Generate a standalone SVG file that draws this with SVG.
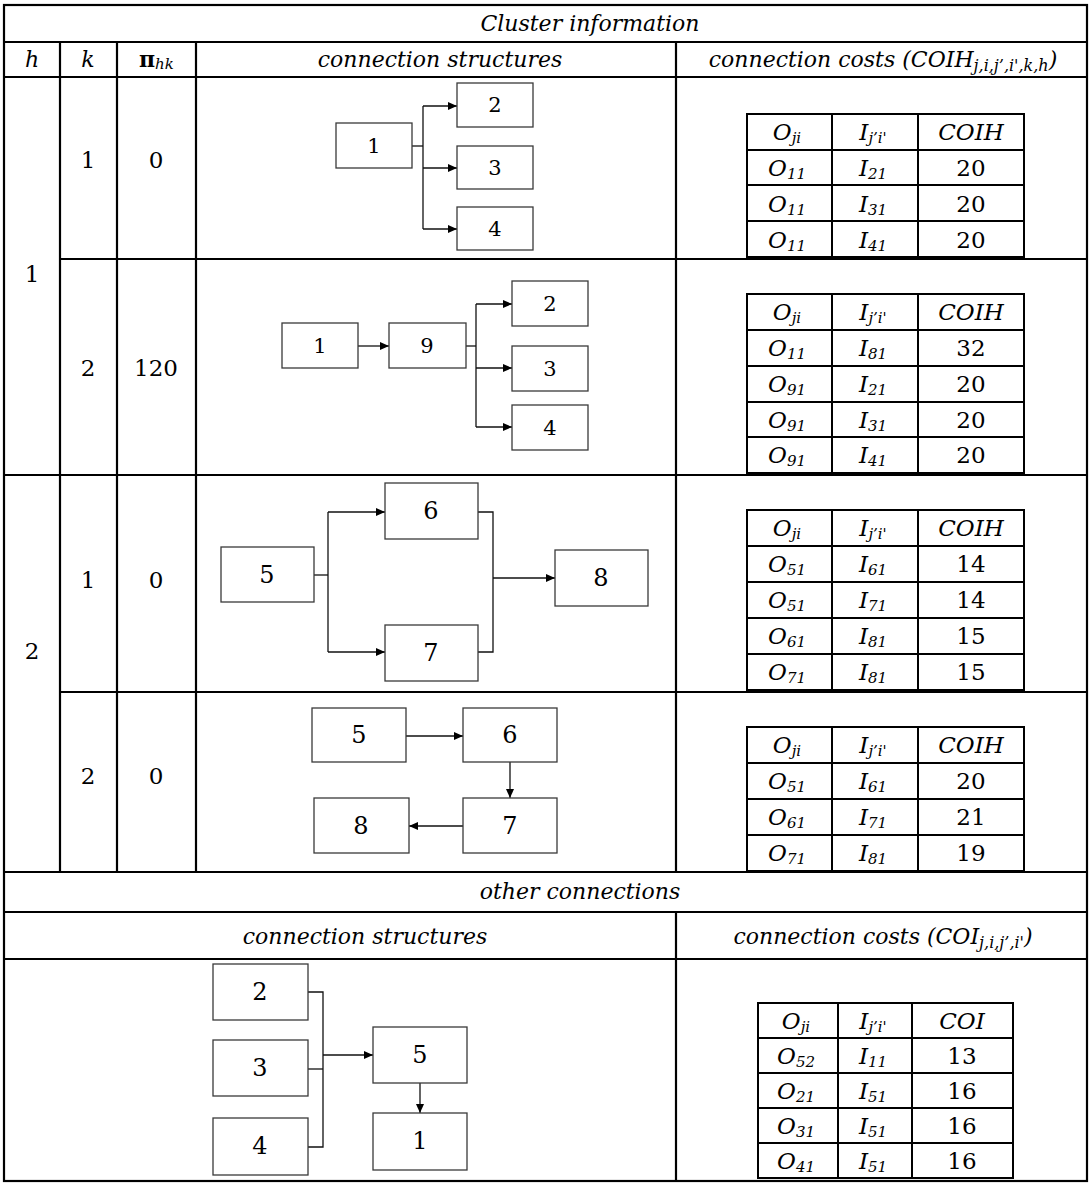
<svg xmlns="http://www.w3.org/2000/svg" width="1089" height="1183" viewBox="0 0 1089 1183" font-family="'DejaVu Serif', serif">
<style>
.g{stroke:#000;stroke-width:2.2;fill:none}
.t{stroke:#000;stroke-width:2;fill:none}
.n{fill:#fff;stroke:#3a3a3a;stroke-width:1.3}
.c{stroke:#111;stroke-width:1.3;fill:none}
text{fill:#000;font-family:"DejaVu Serif",serif}
.i{font-style:italic}
.h{font-size:22px;font-style:italic}
.lb{font-size:23px}
.nl{font-size:21px;text-anchor:middle}
.nb{font-size:24px;text-anchor:middle}
.tc{font-size:23px;text-anchor:middle}
.sb{font-size:15px;font-style:italic}
.hs{font-size:16px}
.m{text-anchor:middle}
</style>
<defs>
<marker id="ah" markerWidth="10" markerHeight="8" refX="9" refY="4" orient="auto" markerUnits="userSpaceOnUse">
<path d="M0,0 L9,4 L0,8 Z" fill="#000"/>
</marker>
</defs>
<rect width="1089" height="1183" fill="#fff"/>

<g id="grid">
<rect class="g" x="4" y="5" width="1083" height="1176"/>
<line class="g" x1="4" y1="42" x2="1087" y2="42"/>
<line class="g" x1="4" y1="77" x2="1087" y2="77"/>
<line class="g" x1="60" y1="259" x2="1087" y2="259"/>
<line class="g" x1="4" y1="475" x2="1087" y2="475"/>
<line class="g" x1="60" y1="692" x2="1087" y2="692"/>
<line class="g" x1="4" y1="872" x2="1087" y2="872"/>
<line class="g" x1="4" y1="912" x2="1087" y2="912"/>
<line class="g" x1="4" y1="959" x2="1087" y2="959"/>
<line class="g" x1="60" y1="42" x2="60" y2="872"/>
<line class="g" x1="117" y1="42" x2="117" y2="872"/>
<line class="g" x1="196" y1="42" x2="196" y2="872"/>
<line class="g" x1="676" y1="42" x2="676" y2="872"/>
<line class="g" x1="676" y1="912" x2="676" y2="1181"/>
</g>

<g id="headers">
<text class="h m" x="590" y="31">Cluster information</text>
<text class="h m" x="32" y="67">h</text>
<text class="h m" x="88" y="67">k</text>
<text x="139" y="67" font-size="22px" font-weight="bold">π<tspan class="sb" font-weight="normal" font-size="14px" dy="2">hk</tspan></text>
<text class="h m" x="440" y="67">connection structures</text>
<text class="h m" x="883" y="67">connection costs (COIH<tspan class="hs" dy="4">j,i,j’,i',k,h</tspan><tspan dy="-4">)</tspan></text>
<text class="h m" x="580" y="899">other connections</text>
<text class="h m" x="365" y="944">connection structures</text>
<text class="h m" x="883" y="944">connection costs (COI<tspan class="hs" dy="4">j,i,j’,i'</tspan><tspan dy="-4">)</tspan></text>
</g>

<g id="row-labels">
<text class="lb m" x="32" y="282">1</text>
<text class="lb m" x="32" y="659">2</text>
<text class="lb m" x="88" y="168">1</text>
<text class="lb m" x="156" y="168">0</text>
<text class="lb m" x="88" y="376">2</text>
<text class="lb m" x="156" y="376">120</text>
<text class="lb m" x="88" y="588">1</text>
<text class="lb m" x="156" y="588">0</text>
<text class="lb m" x="88" y="784">2</text>
<text class="lb m" x="156" y="784">0</text>
</g>

<g id="connectors">
<polyline class="c" points="412,146 423,146"/>
<line class="c" x1="423" y1="106" x2="423" y2="229"/>
<line class="c" x1="423" y1="106" x2="457" y2="106" marker-end="url(#ah)"/>
<line class="c" x1="423" y1="168" x2="457" y2="168" marker-end="url(#ah)"/>
<line class="c" x1="423" y1="229" x2="457" y2="229" marker-end="url(#ah)"/>
<line class="c" x1="358" y1="346" x2="389" y2="346" marker-end="url(#ah)"/>
<polyline class="c" points="466,346 476,346"/>
<line class="c" x1="476" y1="304" x2="476" y2="427"/>
<line class="c" x1="476" y1="304" x2="512" y2="304" marker-end="url(#ah)"/>
<line class="c" x1="476" y1="368" x2="512" y2="368" marker-end="url(#ah)"/>
<line class="c" x1="476" y1="427" x2="512" y2="427" marker-end="url(#ah)"/>
<polyline class="c" points="314,575 328,575"/>
<line class="c" x1="328" y1="512" x2="328" y2="652"/>
<line class="c" x1="328" y1="512" x2="385" y2="512" marker-end="url(#ah)"/>
<line class="c" x1="328" y1="652" x2="385" y2="652" marker-end="url(#ah)"/>
<polyline class="c" points="478,512 493,512 493,652 478,652"/>
<line class="c" x1="493" y1="578" x2="555" y2="578" marker-end="url(#ah)"/>
<line class="c" x1="406" y1="736" x2="463" y2="736" marker-end="url(#ah)"/>
<line class="c" x1="510" y1="762" x2="510" y2="798" marker-end="url(#ah)"/>
<line class="c" x1="463" y1="826" x2="409" y2="826" marker-end="url(#ah)"/>
<polyline class="c" points="308,992 323,992 323,1147 308,1147"/>
<line class="c" x1="308" y1="1069" x2="323" y2="1069"/>
<line class="c" x1="323" y1="1055" x2="373" y2="1055" marker-end="url(#ah)"/>
<line class="c" x1="420" y1="1083" x2="420" y2="1113" marker-end="url(#ah)"/>
</g>

<g id="nodes">
<g id="s11-n1"><rect class="n" x="336" y="123" width="76" height="45"/><text class="nl" x="374" y="153">1</text></g>
<g id="s11-n2"><rect class="n" x="457" y="83" width="76" height="44"/><text class="nl" x="495" y="112">2</text></g>
<g id="s11-n3"><rect class="n" x="457" y="146" width="76" height="43"/><text class="nl" x="495" y="175">3</text></g>
<g id="s11-n4"><rect class="n" x="457" y="207" width="76" height="43"/><text class="nl" x="495" y="236">4</text></g>

<g id="s12-n1"><rect class="n" x="282" y="323" width="76" height="45"/><text class="nl" x="320" y="353">1</text></g>
<g id="s12-n9"><rect class="n" x="389" y="323" width="77" height="45"/><text class="nl" x="427" y="353">9</text></g>
<g id="s12-n2"><rect class="n" x="512" y="281" width="76" height="45"/><text class="nl" x="550" y="311">2</text></g>
<g id="s12-n3"><rect class="n" x="512" y="346" width="76" height="45"/><text class="nl" x="550" y="376">3</text></g>
<g id="s12-n4"><rect class="n" x="512" y="405" width="76" height="45"/><text class="nl" x="550" y="435">4</text></g>

<g id="s21-n5"><rect class="n" x="221" y="547" width="93" height="55"/><text class="nb" x="267" y="583">5</text></g>
<g id="s21-n6"><rect class="n" x="385" y="483" width="93" height="56"/><text class="nb" x="431" y="519">6</text></g>
<g id="s21-n7"><rect class="n" x="385" y="625" width="93" height="56"/><text class="nb" x="431" y="661">7</text></g>
<g id="s21-n8"><rect class="n" x="555" y="550" width="93" height="56"/><text class="nb" x="601" y="586">8</text></g>

<g id="s22-n5"><rect class="n" x="312" y="708" width="94" height="54"/><text class="nb" x="359" y="743">5</text></g>
<g id="s22-n6"><rect class="n" x="463" y="708" width="94" height="54"/><text class="nb" x="510" y="743">6</text></g>
<g id="s22-n7"><rect class="n" x="463" y="798" width="94" height="55"/><text class="nb" x="510" y="834">7</text></g>
<g id="s22-n8"><rect class="n" x="314" y="798" width="95" height="55"/><text class="nb" x="361" y="834">8</text></g>

<g id="o-n2"><rect class="n" x="213" y="964" width="95" height="56"/><text class="nb" x="260" y="1000">2</text></g>
<g id="o-n3"><rect class="n" x="213" y="1040" width="95" height="56"/><text class="nb" x="260" y="1076">3</text></g>
<g id="o-n4"><rect class="n" x="213" y="1118" width="95" height="57"/><text class="nb" x="260" y="1154">4</text></g>
<g id="o-n5"><rect class="n" x="373" y="1027" width="94" height="56"/><text class="nb" x="420" y="1063">5</text></g>
<g id="o-n1"><rect class="n" x="373" y="1113" width="94" height="57"/><text class="nb" x="420" y="1149">1</text></g>
</g>

<g id="tables">
<g id="table-11">
<rect class="t" x="747" y="114" width="277" height="143"/>
<line class="t" x1="747" y1="150" x2="1024" y2="150"/>
<line class="t" x1="747" y1="185" x2="1024" y2="185"/>
<line class="t" x1="747" y1="221" x2="1024" y2="221"/>
<line class="t" x1="832" y1="114" x2="832" y2="257"/>
<line class="t" x1="918" y1="114" x2="918" y2="257"/>
<text class="tc" y="140"><tspan class="i" x="787">O<tspan class="sb" dy="3">ji</tspan></tspan><tspan class="i" x="873" dy="-3">I<tspan class="sb" dy="3">j’i'</tspan></tspan><tspan class="i" x="971" dy="-3">COIH</tspan></text>
<text class="tc" y="176"><tspan class="i" x="787">O<tspan class="sb" dy="3">11</tspan></tspan><tspan class="i" x="873" dy="-3">I<tspan class="sb" dy="3">21</tspan></tspan><tspan x="971" dy="-3">20</tspan></text>
<text class="tc" y="212"><tspan class="i" x="787">O<tspan class="sb" dy="3">11</tspan></tspan><tspan class="i" x="873" dy="-3">I<tspan class="sb" dy="3">31</tspan></tspan><tspan x="971" dy="-3">20</tspan></text>
<text class="tc" y="248"><tspan class="i" x="787">O<tspan class="sb" dy="3">11</tspan></tspan><tspan class="i" x="873" dy="-3">I<tspan class="sb" dy="3">41</tspan></tspan><tspan x="971" dy="-3">20</tspan></text>
</g>

<g id="table-12">
<rect class="t" x="747" y="294" width="277" height="179"/>
<line class="t" x1="747" y1="330" x2="1024" y2="330"/>
<line class="t" x1="747" y1="366" x2="1024" y2="366"/>
<line class="t" x1="747" y1="402" x2="1024" y2="402"/>
<line class="t" x1="747" y1="437" x2="1024" y2="437"/>
<line class="t" x1="832" y1="294" x2="832" y2="473"/>
<line class="t" x1="918" y1="294" x2="918" y2="473"/>
<text class="tc" y="320"><tspan class="i" x="787">O<tspan class="sb" dy="3">ji</tspan></tspan><tspan class="i" x="873" dy="-3">I<tspan class="sb" dy="3">j’i'</tspan></tspan><tspan class="i" x="971" dy="-3">COIH</tspan></text>
<text class="tc" y="356"><tspan class="i" x="787">O<tspan class="sb" dy="3">11</tspan></tspan><tspan class="i" x="873" dy="-3">I<tspan class="sb" dy="3">81</tspan></tspan><tspan x="971" dy="-3">32</tspan></text>
<text class="tc" y="392"><tspan class="i" x="787">O<tspan class="sb" dy="3">91</tspan></tspan><tspan class="i" x="873" dy="-3">I<tspan class="sb" dy="3">21</tspan></tspan><tspan x="971" dy="-3">20</tspan></text>
<text class="tc" y="428"><tspan class="i" x="787">O<tspan class="sb" dy="3">91</tspan></tspan><tspan class="i" x="873" dy="-3">I<tspan class="sb" dy="3">31</tspan></tspan><tspan x="971" dy="-3">20</tspan></text>
<text class="tc" y="463"><tspan class="i" x="787">O<tspan class="sb" dy="3">91</tspan></tspan><tspan class="i" x="873" dy="-3">I<tspan class="sb" dy="3">41</tspan></tspan><tspan x="971" dy="-3">20</tspan></text>
</g>

<g id="table-21">
<rect class="t" x="747" y="510" width="277" height="180"/>
<line class="t" x1="747" y1="546" x2="1024" y2="546"/>
<line class="t" x1="747" y1="582" x2="1024" y2="582"/>
<line class="t" x1="747" y1="618" x2="1024" y2="618"/>
<line class="t" x1="747" y1="654" x2="1024" y2="654"/>
<line class="t" x1="832" y1="510" x2="832" y2="690"/>
<line class="t" x1="918" y1="510" x2="918" y2="690"/>
<text class="tc" y="536"><tspan class="i" x="787">O<tspan class="sb" dy="3">ji</tspan></tspan><tspan class="i" x="873" dy="-3">I<tspan class="sb" dy="3">j’i'</tspan></tspan><tspan class="i" x="971" dy="-3">COIH</tspan></text>
<text class="tc" y="572"><tspan class="i" x="787">O<tspan class="sb" dy="3">51</tspan></tspan><tspan class="i" x="873" dy="-3">I<tspan class="sb" dy="3">61</tspan></tspan><tspan x="971" dy="-3">14</tspan></text>
<text class="tc" y="608"><tspan class="i" x="787">O<tspan class="sb" dy="3">51</tspan></tspan><tspan class="i" x="873" dy="-3">I<tspan class="sb" dy="3">71</tspan></tspan><tspan x="971" dy="-3">14</tspan></text>
<text class="tc" y="644"><tspan class="i" x="787">O<tspan class="sb" dy="3">61</tspan></tspan><tspan class="i" x="873" dy="-3">I<tspan class="sb" dy="3">81</tspan></tspan><tspan x="971" dy="-3">15</tspan></text>
<text class="tc" y="680"><tspan class="i" x="787">O<tspan class="sb" dy="3">71</tspan></tspan><tspan class="i" x="873" dy="-3">I<tspan class="sb" dy="3">81</tspan></tspan><tspan x="971" dy="-3">15</tspan></text>
</g>

<g id="table-22">
<rect class="t" x="747" y="727" width="277" height="144"/>
<line class="t" x1="747" y1="763" x2="1024" y2="763"/>
<line class="t" x1="747" y1="799" x2="1024" y2="799"/>
<line class="t" x1="747" y1="835" x2="1024" y2="835"/>
<line class="t" x1="832" y1="727" x2="832" y2="871"/>
<line class="t" x1="918" y1="727" x2="918" y2="871"/>
<text class="tc" y="753"><tspan class="i" x="787">O<tspan class="sb" dy="3">ji</tspan></tspan><tspan class="i" x="873" dy="-3">I<tspan class="sb" dy="3">j’i'</tspan></tspan><tspan class="i" x="971" dy="-3">COIH</tspan></text>
<text class="tc" y="789"><tspan class="i" x="787">O<tspan class="sb" dy="3">51</tspan></tspan><tspan class="i" x="873" dy="-3">I<tspan class="sb" dy="3">61</tspan></tspan><tspan x="971" dy="-3">20</tspan></text>
<text class="tc" y="825"><tspan class="i" x="787">O<tspan class="sb" dy="3">61</tspan></tspan><tspan class="i" x="873" dy="-3">I<tspan class="sb" dy="3">71</tspan></tspan><tspan x="971" dy="-3">21</tspan></text>
<text class="tc" y="861"><tspan class="i" x="787">O<tspan class="sb" dy="3">71</tspan></tspan><tspan class="i" x="873" dy="-3">I<tspan class="sb" dy="3">81</tspan></tspan><tspan x="971" dy="-3">19</tspan></text>
</g>

<g id="table-other">
<rect class="t" x="758" y="1003" width="255" height="175"/>
<line class="t" x1="758" y1="1038" x2="1013" y2="1038"/>
<line class="t" x1="758" y1="1073" x2="1013" y2="1073"/>
<line class="t" x1="758" y1="1108" x2="1013" y2="1108"/>
<line class="t" x1="758" y1="1143" x2="1013" y2="1143"/>
<line class="t" x1="838" y1="1003" x2="838" y2="1178"/>
<line class="t" x1="912" y1="1003" x2="912" y2="1178"/>
<text class="tc" y="1029"><tspan class="i" x="796">O<tspan class="sb" dy="3">ji</tspan></tspan><tspan class="i" x="873" dy="-3">I<tspan class="sb" dy="3">j’i'</tspan></tspan><tspan class="i" x="962" dy="-3">COI</tspan></text>
<text class="tc" y="1064"><tspan class="i" x="796">O<tspan class="sb" dy="3">52</tspan></tspan><tspan class="i" x="873" dy="-3">I<tspan class="sb" dy="3">11</tspan></tspan><tspan x="962" dy="-3">13</tspan></text>
<text class="tc" y="1099"><tspan class="i" x="796">O<tspan class="sb" dy="3">21</tspan></tspan><tspan class="i" x="873" dy="-3">I<tspan class="sb" dy="3">51</tspan></tspan><tspan x="962" dy="-3">16</tspan></text>
<text class="tc" y="1134"><tspan class="i" x="796">O<tspan class="sb" dy="3">31</tspan></tspan><tspan class="i" x="873" dy="-3">I<tspan class="sb" dy="3">51</tspan></tspan><tspan x="962" dy="-3">16</tspan></text>
<text class="tc" y="1169"><tspan class="i" x="796">O<tspan class="sb" dy="3">41</tspan></tspan><tspan class="i" x="873" dy="-3">I<tspan class="sb" dy="3">51</tspan></tspan><tspan x="962" dy="-3">16</tspan></text>
</g>
</g>
</svg>
